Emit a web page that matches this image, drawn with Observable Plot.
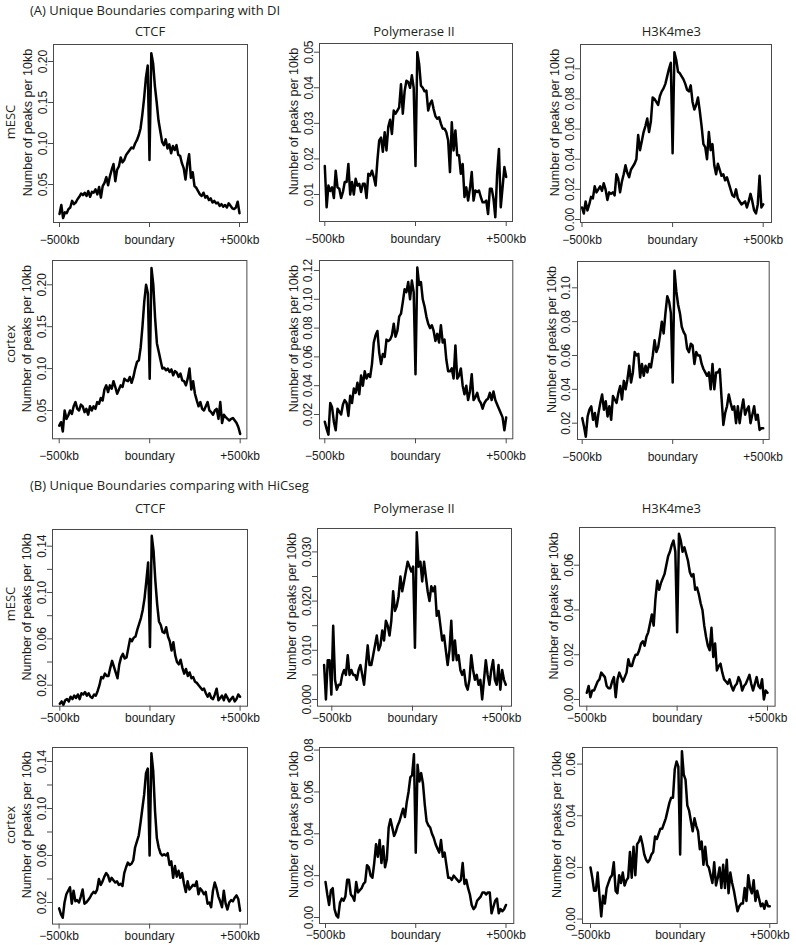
<!DOCTYPE html>
<html><head><meta charset="utf-8">
<script src="https://cdn.jsdelivr.net/npm/d3@7"></script>
<script src="https://cdn.jsdelivr.net/npm/@observablehq/plot@0.6"></script>
<style>
html,body{margin:0;padding:0;background:#fff;}
#fig{position:relative;width:796px;height:945px;overflow:hidden;background:#fff;}
.lbl{position:absolute;font-family:"Open Sans",sans-serif;font-size:13px;line-height:13px;color:#231f20;white-space:nowrap;}
.rot{position:absolute;font-family:"Open Sans",sans-serif;font-size:13px;line-height:13px;color:#231f20;white-space:nowrap;transform:translate(-50%,-50%) rotate(-90deg);}
</style></head><body><div id="fig"></div><script>
// ---------- data ----------
const sectionTitles = ["(A) Unique Boundaries comparing with DI", "(B) Unique Boundaries comparing with HiCseg"];
const factors = ["CTCF", "Polymerase II", "H3K4me3"];
const tissues = ["mESC", "cortex"];
const yTitle = "Number of peaks per 10kb";
const xTickValues = [-500, 0, 500];
const xTickLabels = ["\u2212500kb", "boundary", "+500kb"];
const bins = d3.range(-500, 501, 10); // 10kb bins

const A_mESC_CTCF = [0.014,0.025,0.009,0.016,0.015,0.020,0.022,0.030,0.026,0.028,
 0.032,0.035,0.039,0.037,0.040,0.036,0.042,0.035,0.041,0.040,
 0.044,0.038,0.047,0.034,0.048,0.052,0.059,0.049,0.060,0.068,
 0.075,0.054,0.068,0.072,0.083,0.077,0.080,0.086,0.089,0.092,
 0.095,0.094,0.100,0.104,0.110,0.118,0.135,0.155,0.180,0.195,
 0.080,
 0.210,0.198,0.170,0.150,0.128,0.115,0.102,0.098,0.105,
 0.094,0.099,0.088,0.097,0.092,0.098,0.086,0.085,0.076,0.070,
 0.056,0.075,0.087,0.058,0.065,0.048,0.046,0.042,0.038,0.036,
 0.040,0.034,0.036,0.031,0.033,0.028,0.030,0.027,0.028,0.024,
 0.026,0.023,0.025,0.022,0.027,0.024,0.021,0.020,0.022,0.029,0.015];
const A_mESC_PolII = [0.018,0.0064,0.0125,0.011,0.012,0.009,0.0167,0.012,0.0116,0.009,
 0.0107,0.0135,0.0135,0.0186,0.010,0.0135,0.010,0.0144,0.0125,0.013,
 0.0107,0.013,0.013,0.009,0.0158,0.0153,0.0167,0.0149,0.0125,0.0196,
 0.0252,0.026,0.022,0.0275,0.0224,0.029,0.031,0.027,0.0336,0.0327,
 0.0336,0.0345,0.041,0.0327,0.039,0.042,0.0416,0.040,0.0435,0.040,
 0.018,
 0.050,0.0467,0.0406,0.040,0.039,0.0392,0.0336,0.0355,0.0364,
 0.034,0.032,0.0313,0.0317,0.0299,0.0285,0.0285,0.0275,0.0252,0.0163,
 0.0303,0.0224,0.028,0.021,0.021,0.0158,0.0186,0.0093,0.012,0.0083,
 0.0116,0.0163,0.0083,0.0111,0.0107,0.0111,0.0093,0.0078,0.0078,0.0083,
 0.0045,0.0116,0.0116,0.0088,0.0036,0.0158,0.0228,0.0064,0.012,0.0177,0.0149];
const A_mESC_H3K4me3 = [0.008,0.004,0.012,0.006,0.010,0.015,0.014,0.022,0.018,0.020,
 0.022,0.019,0.024,0.020,0.013,0.018,0.017,0.018,0.016,0.030,
 0.027,0.018,0.025,0.030,0.036,0.031,0.028,0.033,0.035,0.037,
 0.040,0.056,0.046,0.052,0.058,0.062,0.067,0.058,0.065,0.081,
 0.080,0.078,0.076,0.082,0.085,0.087,0.090,0.095,0.100,0.104,
 0.044,
 0.111,0.106,0.098,0.097,0.095,0.093,0.090,0.086,0.085,
 0.089,0.078,0.073,0.076,0.081,0.072,0.062,0.050,0.048,0.040,
 0.058,0.046,0.050,0.036,0.030,0.037,0.033,0.029,0.030,0.026,
 0.028,0.024,0.020,0.016,0.015,0.020,0.014,0.012,0.010,0.011,
 0.012,0.008,0.012,0.017,0.012,0.006,0.004,0.010,0.029,0.008,0.010];
const A_cortex_CTCF = [0.032,0.036,0.025,0.050,0.040,0.044,0.050,0.046,0.055,0.060,
 0.052,0.050,0.057,0.055,0.048,0.052,0.045,0.055,0.050,0.055,
 0.052,0.060,0.058,0.065,0.062,0.075,0.080,0.072,0.080,0.076,
 0.085,0.078,0.070,0.075,0.080,0.078,0.088,0.086,0.085,0.090,
 0.083,0.090,0.100,0.108,0.110,0.125,0.150,0.180,0.200,0.190,
 0.088,
 0.220,0.200,0.160,0.130,0.120,0.110,0.100,0.101,0.098,
 0.100,0.096,0.099,0.092,0.097,0.095,0.090,0.094,0.086,0.085,
 0.080,0.088,0.100,0.075,0.085,0.070,0.062,0.055,0.060,0.052,
 0.050,0.055,0.060,0.050,0.048,0.045,0.050,0.052,0.040,0.060,
 0.035,0.045,0.042,0.040,0.038,0.040,0.041,0.038,0.035,0.030,0.022];
const A_cortex_PolII = [0.015,0.010,0.006,0.028,0.025,0.015,0.009,0.024,0.022,0.020,
 0.027,0.030,0.028,0.019,0.033,0.028,0.038,0.035,0.042,0.034,
 0.047,0.040,0.050,0.045,0.048,0.046,0.055,0.070,0.075,0.078,
 0.063,0.055,0.062,0.060,0.072,0.071,0.072,0.075,0.083,0.074,
 0.078,0.088,0.090,0.098,0.107,0.105,0.112,0.100,0.113,0.105,
 0.048,
 0.122,0.110,0.112,0.100,0.095,0.088,0.083,0.080,0.082,
 0.078,0.071,0.076,0.070,0.082,0.070,0.072,0.058,0.050,0.050,
 0.052,0.045,0.068,0.045,0.047,0.052,0.040,0.034,0.040,0.030,
 0.036,0.048,0.030,0.032,0.035,0.030,0.028,0.024,0.028,0.030,
 0.031,0.035,0.030,0.036,0.030,0.027,0.024,0.021,0.018,0.009,0.018];
const A_cortex_H3K4me3 = [0.023,0.018,0.012,0.024,0.028,0.030,0.022,0.026,0.018,0.026,
 0.032,0.037,0.028,0.033,0.024,0.030,0.022,0.036,0.034,0.032,
 0.038,0.042,0.034,0.045,0.040,0.046,0.054,0.044,0.050,0.062,
 0.060,0.061,0.047,0.055,0.048,0.054,0.050,0.055,0.053,0.060,
 0.069,0.062,0.065,0.072,0.080,0.073,0.085,0.095,0.092,0.085,
 0.044,
 0.110,0.098,0.090,0.085,0.077,0.074,0.072,0.064,0.062,
 0.067,0.066,0.055,0.062,0.060,0.060,0.055,0.052,0.050,0.048,
 0.050,0.040,0.055,0.040,0.050,0.050,0.052,0.035,0.019,0.026,
 0.030,0.037,0.032,0.028,0.030,0.020,0.030,0.020,0.028,0.034,
 0.025,0.028,0.030,0.020,0.025,0.030,0.022,0.025,0.016,0.017,0.017];
const B_mESC_CTCF = [0.004,0.006,0.003,0.007,0.008,0.006,0.010,0.008,0.011,0.009,
 0.012,0.008,0.013,0.012,0.014,0.011,0.013,0.010,0.009,0.012,
 0.011,0.015,0.020,0.027,0.026,0.030,0.028,0.028,0.035,0.041,
 0.036,0.031,0.026,0.038,0.044,0.047,0.043,0.044,0.052,0.060,
 0.058,0.061,0.062,0.068,0.073,0.078,0.085,0.095,0.110,0.126,
 0.053,
 0.149,0.136,0.110,0.090,0.075,0.072,0.066,0.065,0.070,
 0.062,0.058,0.050,0.057,0.046,0.040,0.038,0.042,0.035,0.030,
 0.034,0.028,0.031,0.026,0.027,0.023,0.022,0.020,0.018,0.016,
 0.017,0.013,0.010,0.013,0.009,0.008,0.012,0.017,0.007,0.009,
 0.011,0.007,0.012,0.009,0.006,0.008,0.010,0.006,0.008,0.012,0.010];
const B_mESC_PolII = [0.007,0.000,0.008,0.008,0.001,0.015,0.004,0.002,0.003,0.003,
 0.005,0.006,0.005,0.009,0.005,0.006,0.005,0.005,0.004,0.006,
 0.007,0.005,0.003,0.007,0.011,0.007,0.007,0.009,0.011,0.013,
 0.010,0.011,0.014,0.012,0.016,0.015,0.013,0.016,0.022,0.018,
 0.019,0.021,0.025,0.022,0.024,0.026,0.028,0.027,0.026,0.027,
 0.0105,
 0.034,0.027,0.028,0.024,0.028,0.025,0.022,0.020,0.023,
 0.022,0.023,0.017,0.018,0.015,0.012,0.013,0.010,0.007,0.010,
 0.016,0.008,0.012,0.008,0.009,0.006,0.005,0.006,0.003,0.002,
 0.004,0.009,0.006,0.004,0.005,0.003,0.004,0.000,0.004,0.008,
 0.005,0.003,0.006,0.008,0.004,0.003,0.007,0.002,0.006,0.004,0.003];
const B_mESC_H3K4me3 = [0.003,0.006,0.001,0.004,0.004,0.006,0.008,0.009,0.012,0.011,
 0.010,0.006,0.005,0.005,0.008,0.010,0.001,0.009,0.012,0.010,
 0.008,0.010,0.012,0.018,0.015,0.015,0.018,0.020,0.020,0.022,
 0.025,0.026,0.024,0.028,0.030,0.034,0.038,0.033,0.045,0.053,
 0.049,0.052,0.054,0.056,0.060,0.064,0.066,0.069,0.071,0.066,
 0.030,
 0.074,0.071,0.066,0.068,0.065,0.062,0.057,0.055,0.056,
 0.049,0.050,0.047,0.043,0.040,0.033,0.028,0.024,0.022,0.032,
 0.019,0.025,0.013,0.015,0.016,0.012,0.009,0.008,0.007,0.009,
 0.006,0.004,0.006,0.007,0.010,0.008,0.004,0.006,0.007,0.009,
 0.011,0.007,0.004,0.007,0.010,0.006,0.005,0.009,0.000,0.004,0.003];
const B_cortex_CTCF = [0.015,0.010,0.007,0.020,0.027,0.030,0.033,0.019,0.030,0.021,
 0.022,0.020,0.025,0.031,0.019,0.020,0.022,0.024,0.027,0.029,
 0.028,0.031,0.040,0.035,0.038,0.042,0.045,0.043,0.038,0.041,
 0.039,0.037,0.038,0.035,0.036,0.034,0.045,0.050,0.054,0.052,
 0.053,0.056,0.067,0.072,0.077,0.088,0.100,0.112,0.130,0.134,
 0.060,
 0.147,0.132,0.098,0.075,0.067,0.062,0.060,0.061,0.060,
 0.062,0.052,0.055,0.041,0.051,0.042,0.047,0.041,0.045,0.036,
 0.029,0.038,0.031,0.033,0.035,0.034,0.038,0.027,0.032,0.030,
 0.027,0.029,0.019,0.020,0.016,0.030,0.037,0.032,0.025,0.021,
 0.016,0.030,0.019,0.014,0.020,0.022,0.021,0.024,0.026,0.023,0.013];
const B_cortex_PolII = [0.017,0.011,0.006,0.013,0.014,0.004,0.001,0.000,0.007,0.009,
 0.008,0.010,0.018,0.018,0.011,0.010,0.008,0.017,0.012,0.013,
 0.014,0.016,0.017,0.025,0.024,0.020,0.019,0.026,0.035,0.029,
 0.037,0.026,0.034,0.024,0.028,0.043,0.047,0.043,0.039,0.041,
 0.044,0.046,0.049,0.052,0.048,0.055,0.060,0.067,0.068,0.078,
 0.031,
 0.073,0.065,0.069,0.064,0.054,0.046,0.044,0.043,0.040,
 0.038,0.035,0.033,0.031,0.037,0.029,0.031,0.025,0.019,0.019,
 0.018,0.020,0.019,0.018,0.017,0.018,0.026,0.016,0.018,0.014,
 0.011,0.006,0.004,0.005,0.008,0.009,0.010,0.012,0.012,0.011,
 0.012,0.012,0.002,0.005,0.008,0.009,0.002,0.004,0.003,0.004,0.006];
const B_cortex_H3K4me3 = [0.020,0.016,0.011,0.011,0.018,0.009,0.001,0.009,0.006,0.012,
 0.014,0.016,0.017,0.022,0.011,0.010,0.017,0.014,0.018,0.013,
 0.015,0.016,0.026,0.016,0.028,0.017,0.029,0.030,0.032,0.029,
 0.025,0.023,0.022,0.023,0.025,0.026,0.032,0.031,0.033,0.035,
 0.035,0.037,0.039,0.042,0.045,0.047,0.047,0.058,0.061,0.059,
 0.025,
 0.065,0.056,0.054,0.044,0.042,0.038,0.034,0.039,0.036,
 0.034,0.027,0.030,0.021,0.028,0.021,0.020,0.017,0.014,0.022,
 0.013,0.016,0.020,0.012,0.021,0.012,0.023,0.010,0.018,0.014,
 0.011,0.007,0.003,0.005,0.006,0.006,0.012,0.007,0.017,0.012,
 0.010,0.015,0.007,0.011,0.008,0.005,0.006,0.004,0.007,0.005,0.005];

// y tick values (all ticks) and the ones carrying a label
const yTicks = {
  A_mESC_CTCF: [0.05,0.10,0.15,0.20], A_mESC_PolII: [0.01,0.02,0.03,0.04,0.05], A_mESC_H3K4me3: [0,0.02,0.04,0.06,0.08,0.10],
  A_cortex_CTCF: [0.05,0.10,0.15,0.20], A_cortex_PolII: [0.02,0.04,0.06,0.08,0.10,0.12], A_cortex_H3K4me3: [0.02,0.04,0.06,0.08,0.10],
  B_mESC_CTCF: [0.02,0.04,0.06,0.08,0.10,0.12,0.14], B_mESC_PolII: [0,0.005,0.010,0.015,0.020,0.025,0.030], B_mESC_H3K4me3: [0,0.02,0.04,0.06],
  B_cortex_CTCF: [0.02,0.04,0.06,0.08,0.10,0.12,0.14], B_cortex_PolII: [0,0.02,0.04,0.06,0.08], B_cortex_H3K4me3: [0,0.02,0.04,0.06]
};
const yTickLabels = {
  A_mESC_CTCF: ["0.05","0.10","0.15","0.20"], A_mESC_PolII: ["0.01","0.02","0.03","0.04","0.05"], A_mESC_H3K4me3: ["0.00","0.02","0.04","0.06","0.08","0.10"],
  A_cortex_CTCF: ["0.05","0.10","0.15","0.20"], A_cortex_PolII: ["0.02","0.04","0.06","0.08","0.10","0.12"], A_cortex_H3K4me3: ["0.02","0.04","0.06","0.08","0.10"],
  B_mESC_CTCF: ["0.02","","0.06","","0.10","","0.14"], B_mESC_PolII: ["0.000","","0.010","","0.020","","0.030"], B_mESC_H3K4me3: ["0.00","0.02","0.04","0.06"],
  B_cortex_CTCF: ["0.02","","0.06","","0.10","","0.14"], B_cortex_PolII: ["0.00","0.02","0.04","0.06","0.08"], B_cortex_H3K4me3: ["0.00","0.02","0.04","0.06"]
};

// ---------- layout (pixel geometry of each panel) ----------
// box: [left, top, right, bottom]; xs: pixel of -500 / +500; yref: [v1, px1, v2, px2]; xpad: gap tick -> label
const panels = [
  {key:"A_mESC_CTCF", data:A_mESC_CTCF, box:[53,44,247,222], xs:[59,239], yref:[0.20,61,0.05,184], xpad:8},
  {key:"A_mESC_PolII", data:A_mESC_PolII, box:[319,43,512,221], xs:[324.3,505.7], yref:[0.05,51.7,0.01,194], xpad:8},
  {key:"A_mESC_H3K4me3", data:A_mESC_H3K4me3, box:[580,44,771,222], xs:[581.5,762.7], yref:[0.10,68.3,0.00,219], xpad:8},
  {key:"A_cortex_CTCF", data:A_cortex_CTCF, box:[52.3,260,246.7,438.3], xs:[59,240], yref:[0.20,284.3,0.05,410], xpad:8},
  {key:"A_cortex_PolII", data:A_cortex_PolII, box:[319,260,512.3,438.3], xs:[324.3,505.7], yref:[0.12,270,0.02,414], xpad:8},
  {key:"A_cortex_H3K4me3", data:A_cortex_H3K4me3, box:[577,261,768.7,439], xs:[581.7,762.7], yref:[0.10,287.3,0.02,422.7], xpad:8},
  {key:"B_mESC_CTCF", data:B_mESC_CTCF, box:[51.7,529.3,246.7,706], xs:[59,239.3], yref:[0.14,546,0.02,685], xpad:2},
  {key:"B_mESC_PolII", data:B_mESC_PolII, box:[316.7,528.3,510.7,706], xs:[323.3,505], yref:[0.030,551.7,0.000,699.3], xtickPx:[331,411.7,500.7], xpad:2},
  {key:"B_mESC_H3K4me3", data:B_mESC_H3K4me3, box:[578.7,527.3,774.3,706], xs:[586,766.7], yref:[0.06,565,0.00,699.3], xpad:2},
  {key:"B_cortex_CTCF", data:B_cortex_CTCF, box:[51.7,746.7,246.7,923.3], xs:[58.3,239.3], yref:[0.14,760.7,0.02,901.7], xpad:2},
  {key:"B_cortex_PolII", data:B_cortex_PolII, box:[319,746.7,513.3,922.7], xs:[325,505.5], yref:[0.08,749.3,0.00,916.7], xpad:2},
  {key:"B_cortex_H3K4me3", data:B_cortex_H3K4me3, box:[582,746.7,776.7,922.7], xs:[590,769.3], yref:[0.06,763.3,0.00,918.3], xpad:2}
];

const fig = document.getElementById("fig");
const ML = 62, MR = 6, MT = 6, MB = 32;
const axisColor = "#4a4a4a";
const rFont = "'Liberation Sans', Arial, Helvetica, sans-serif";

for (const p of panels) {
  const [L, T, R, B] = p.box;
  const ppk = (p.xs[1] - p.xs[0]) / 1000;
  const xd = [-500 - (p.xs[0] - L) / ppk, 500 + (R - p.xs[1]) / ppk];
  const [v1, p1, v2, p2] = p.yref;
  const ppv = (p2 - p1) / (v1 - v2);
  const yd = [v1 - (B - p1) / ppv, v1 + (p1 - T) / ppv];
  const xtv = p.xtickPx ? p.xtickPx.map(px => -500 + (px - p.xs[0]) / ppk) : xTickValues;
  const yt = yTicks[p.key], yl = yTickLabels[p.key];
  const chart = Plot.plot({
    width: (R - L) + ML + MR,
    height: (B - T) + MT + MB,
    marginLeft: ML, marginRight: MR, marginTop: MT, marginBottom: MB,
    x: {domain: xd},
    y: {domain: yd},
    style: {fontFamily: rFont, fontSize: "12px", color: "#1a1a1a", background: "transparent", overflow: "visible"},
    marks: [
      Plot.lineY(p.data, {x: (d, i) => bins[i], y: d => d, stroke: "#000", strokeWidth: 2.5}),
      Plot.frame({stroke: axisColor, strokeWidth: 1}),
      Plot.axisX({ticks: xtv, tickFormat: d => xTickLabels[xtv.indexOf(d)], tickSize: 5, tickPadding: p.xpad, stroke: axisColor, label: null, fontSize: 12}),
      Plot.axisY({ticks: yt, tickFormat: d => yl[yt.indexOf(d)], tickRotate: -90, tickSize: 5, tickPadding: 2, stroke: axisColor, label: null, fontSize: 12}),
      Plot.text([yTitle], {text: d => d, frameAnchor: "left", textAnchor: "middle", lineAnchor: "middle", rotate: -90, dx: -25.5, dy: -11, fontSize: 12.5})
    ]
  });
  chart.style.position = "absolute";
  chart.style.left = (L - ML) + "px";
  chart.style.top = (T - MT) + "px";
  fig.appendChild(chart);
}

// ---------- surrounding labels ----------
function addLabel(text, left, top, cls, extra) {
  const d = document.createElement("div");
  d.className = cls;
  d.textContent = text;
  d.style.left = left + "px";
  d.style.top = top + "px";
  if (extra) Object.assign(d.style, extra);
  fig.appendChild(d);
}
const sectionTop = [3.5, 479.2];
const colTitleTop = [24.5, 501.8];
const colCenters = [150, 414, 671.3];
const rowCenters = [[121.5, 344], [603.5, 825]];
sectionTitles.forEach((t, s) => {
  addLabel(t, 30, sectionTop[s], "lbl");
  factors.forEach((f, c) => addLabel(f, colCenters[c] - 100, colTitleTop[s], "lbl", {width: "200px", textAlign: "center"}));
  tissues.forEach((tis, r) => addLabel(tis, 10, rowCenters[s][r], "rot"));
});
</script></body></html>
